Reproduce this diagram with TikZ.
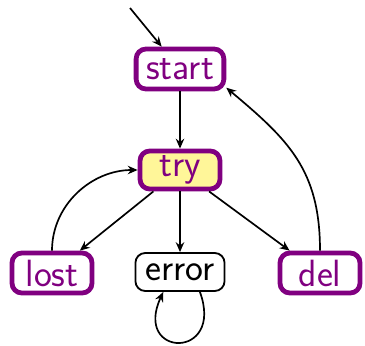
\documentclass[tikz,border=0pt]{standalone}
\usepackage{xcolor}
\definecolor{stpurple}{RGB}{128,0,128}
\definecolor{styellow}{RGB}{255,246,153}
\usepackage{tikz}
\usetikzlibrary{arrows.meta, positioning}

\begin{document}
\begin{tikzpicture}[
  state/.style={rectangle, rounded corners=7pt, draw=stpurple, line width=3.4pt,
              minimum height=1.0cm, minimum width=2.0cm, inner xsep=0.25cm,
              text=stpurple, font=\fontsize{27}{32}\selectfont\sffamily},
  plain/.style={state, draw=black, line width=1.3pt, text=black,
              minimum height=0.95cm, minimum width=2.1cm},
  arr/.style={-{Stealth[length=7pt, width=6pt]}, line width=1.2pt, draw=black}
]
\useasboundingbox (0,0) rectangle (9.125,-8.625);

% States
\node[state] (start) at (4.5,-1.725) {start};
\node[state, fill=styellow, minimum height=0.9cm] (try) at (4.5,-4.25) {try};
\node[state] (lost) at (1.3,-6.825) {lost};
\node[plain] (error) at (4.5,-6.8) {error};
\node[state] (del) at (8.0,-6.825) {del};

% Entry point
\coordinate (init) at (3.25,-0.2);
\draw[arr] (init) -- (start);

% Transitions
\draw[arr] (start) -- (try);
\draw[arr] (try) -- (lost);
\draw[arr] (try) -- (error);
\draw[arr] (try) -- (del);
\draw[arr] (lost.north) to[out=90, in=180] (try.west);
\draw[arr] (del.north) to[out=90, in=-40, looseness=1.1] (start.-22);
\draw[arr] (error.-45) to[out=-70, in=-115, looseness=5.1] (error.-130);
\end{tikzpicture}
\end{document}
